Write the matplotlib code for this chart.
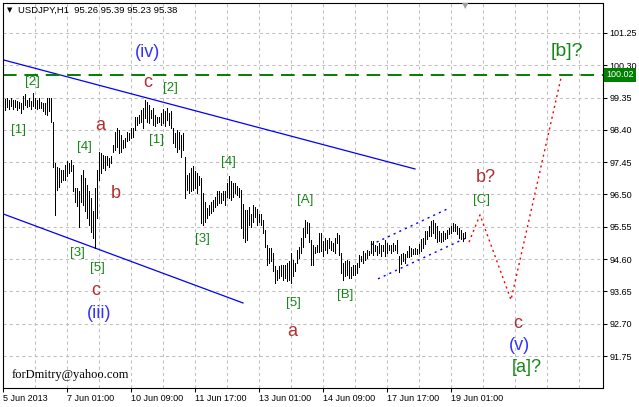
import matplotlib.pyplot as plt
import numpy as np

plt.rcParams['font.family'] = ['Liberation Sans', 'DejaVu Sans']

# hourly bars USDJPY H1 (high / low)
highs = [99.31, 99.35, 99.28, 99.33, 99.28, 99.28, 99.25, 99.23, 99.18, 99.41,
         99.45, 99.28, 99.33, 99.25, 99.48, 99.33, 99.28, 99.33, 99.23, 99.18,
         99.18, 99.33, 99.35, 99.33, 98.64, 97.42, 97.32, 97.27, 97.22, 97.22,
         97.37, 97.47, 97.42, 97.52, 97.37, 96.69, 96.69, 96.59,
         97.08, 97.22, 96.98, 96.78, 96.59, 96.39, 96.00, 96.69, 97.22, 97.76,
         97.71, 97.66, 97.62, 97.62, 97.57, 97.62, 97.96, 98.35, 98.45, 98.40,
         98.25, 98.10, 98.15, 98.35, 98.30, 98.45, 98.45, 98.79, 98.79, 98.84,
         98.99, 99.04, 99.28, 99.23, 99.13, 98.99, 99.04, 98.84, 98.79, 98.79,
         98.90, 99.00, 98.95, 99.05, 98.90, 98.95, 98.45, 98.30, 98.40, 98.35,
         98.25, 98.30, 97.60, 97.08, 97.13, 97.28, 97.33, 97.18, 97.13, 97.03,
         96.98, 96.54, 96.29, 96.09, 96.19, 96.29, 96.34, 96.44, 96.59, 96.59,
         96.54, 96.59, 96.59, 96.84, 97.03, 96.89, 96.84, 96.84, 96.74, 96.69,
         96.62, 96.23, 96.03, 96.03, 96.13, 95.94, 96.18, 96.13, 96.08, 95.94,
         95.94, 95.74, 95.45, 95.02, 94.92, 94.92, 94.77, 94.39, 94.29, 94.39,
         94.43, 94.43, 94.43, 94.48, 94.53, 94.77, 94.58, 94.48, 94.87, 94.97,
         95.21, 95.50, 95.74, 95.69, 95.65, 95.16, 95.02, 94.97, 95.02, 95.36,
         95.37, 95.12, 95.22, 95.17, 95.22, 95.12, 95.07, 95.22, 95.37, 95.32,
         94.78, 94.48, 94.53, 94.58, 94.53, 94.38, 94.43, 94.43, 94.48, 94.73,
         94.68, 94.83, 94.78, 94.88, 94.83, 95.12, 95.12, 95.02, 94.98, 95.07,
         95.02, 95.02, 95.17, 95.07, 95.02, 95.02, 95.07, 95.02, 95.17, 94.68,
         94.74, 94.79, 94.74, 94.84, 94.99, 94.94, 94.89, 94.94, 94.89, 95.04,
         95.18, 95.23, 95.43, 95.43, 95.57, 95.71, 95.76, 95.67, 95.57, 95.43,
         95.38, 95.43, 95.38, 95.47, 95.52, 95.57, 95.67, 95.62, 95.57, 95.52,
         95.47, 95.38, 95.39]
lows = [98.99, 99.06, 99.02, 99.11, 99.02, 99.06, 98.99, 99.04, 98.89, 99.02,
        99.13, 99.06, 99.09, 99.02, 99.09, 99.04, 99.02, 99.04, 99.04, 98.96,
        98.86, 98.84, 98.96, 98.64, 97.32, 95.90, 96.64, 96.73, 96.88, 96.93,
        96.93, 97.03, 97.13, 97.18, 96.59, 96.29, 96.15, 95.55,
        96.29, 96.19, 96.00, 95.80, 95.61, 95.41, 95.22, 94.92, 95.80, 96.93,
        97.13, 97.27, 97.22, 97.37, 97.32, 97.42, 97.76, 97.81, 97.91, 97.71,
        97.76, 97.86, 97.91, 98.06, 98.10, 98.15, 98.20, 98.40, 98.55, 98.60,
        98.64, 98.45, 98.74, 98.64, 98.60, 98.74, 98.55, 98.50, 98.60, 98.64,
        98.55, 98.60, 98.50, 98.70, 98.55, 98.45, 98.00, 97.90, 97.75, 97.85,
        97.60, 97.80, 96.40, 96.64, 96.54, 96.59, 96.64, 96.69, 96.54, 96.79,
        95.65, 95.60, 95.70, 95.80, 95.90, 95.95, 96.00, 96.14, 96.19, 96.24,
        96.24, 96.34, 96.19, 96.44, 96.39, 96.34, 96.44, 96.54, 96.49, 96.44,
        95.50, 95.21, 95.11, 95.16, 95.60, 95.55, 95.69, 95.84, 95.60, 95.69,
        95.60, 95.36, 94.97, 94.43, 94.48, 94.53, 94.24, 93.90, 94.00, 94.05,
        94.10, 94.00, 94.05, 93.95, 94.00, 93.90, 94.10, 94.24, 94.48, 94.63,
        94.77, 94.97, 95.26, 95.36, 95.11, 94.43, 94.43, 94.77, 94.82, 94.82,
        94.83, 94.68, 94.88, 94.78, 94.93, 94.88, 94.83, 94.78, 95.07, 94.73,
        94.18, 93.99, 94.09, 94.13, 94.04, 94.04, 94.13, 94.13, 94.18, 94.38,
        94.53, 94.48, 94.58, 94.63, 94.73, 94.78, 94.73, 94.83, 94.73, 94.78,
        94.68, 94.83, 94.68, 94.78, 94.88, 94.78, 94.83, 94.88, 94.78, 94.23,
        94.45, 94.55, 94.50, 94.65, 94.65, 94.70, 94.74, 94.74, 94.74, 94.79,
        94.84, 94.94, 95.04, 95.18, 95.28, 95.28, 95.38, 95.23, 95.09, 95.13,
        95.09, 95.13, 95.18, 95.23, 95.33, 95.38, 95.43, 95.43, 95.33, 95.23,
        95.18, 95.13, 95.23]

date_bars = [-1, 31, 63, 95, 127, 159, 191, 223]
date_labels = ['5 Jun 2013', '7 Jun 01:00', '10 Jun 09:00', '11 Jun 17:00',
               '13 Jun 01:00', '14 Jun 09:00', '17 Jun 17:00', '19 Jun 01:00']
price_ticks = [101.25, 100.30, 99.35, 98.40, 97.45, 96.50, 95.55, 94.60,
               93.65, 92.70, 91.75]
level = 100.02

# trend lines (bar index, price)
upper_x, upper_y = [-1, 205], [100.46, 97.25]
lower_x, lower_y = [-1, 119], [95.93, 93.31]
chan_top_x, chan_top_y = [183, 221], [95.02, 96.07]
chan_bot_x, chan_bot_y = [186.5, 230.5], [94.02, 95.22]
fc_x = [232, 237.5, 253, 278]
fc_y = [95.10, 95.90, 93.40, 99.93]

GREEN = '#178517'
RED = '#b03030'
BLUE = '#3333ff'
labels = [
    ('[2]', 13.5, 99.81, GREEN, 9.5), ('[1]', 6.5, 98.40, GREEN, 9.5),
    ('a', 47.5, 98.54, RED, 13), ('c', 71.5, 99.78, RED, 13),
    ('(iv)', 71, 100.66, BLUE, 13), ('[2]', 82.5, 99.63, GREEN, 9.5),
    ('[1]', 76, 98.10, GREEN, 9.5), ('[4]', 39.5, 97.90, GREEN, 9.5),
    ('b', 55.5, 96.54, RED, 13), ('[3]', 36, 94.78, GREEN, 9.5),
    ('[5]', 46, 94.34, GREEN, 9.5), ('c', 45.5, 93.69, RED, 13),
    ('(iii)', 47, 93.01, BLUE, 13), ('[4]', 111.5, 97.46, GREEN, 9.5),
    ('[3]', 98.5, 95.19, GREEN, 9.5), ('[A]', 150, 96.34, GREEN, 9.5),
    ('[5]', 144, 93.31, GREEN, 9.5), ('a', 143.5, 92.46, RED, 13),
    ('[B]', 170, 93.54, GREEN, 9.5), ('b?', 240.5, 97.01, RED, 13),
    ('[C]', 238, 96.34, GREEN, 9.5), ('c', 256.5, 92.72, RED, 13),
    ('(v)', 257, 92.07, BLUE, 13), ('[a]?', 261, 91.40, GREEN, 13),
    ('[b]?', 281, 100.69, GREEN, 14),
]

fig = plt.figure(figsize=(6.39, 4.07), dpi=100)
ax = fig.add_axes([3 / 639, 19 / 407, 600 / 639, 385 / 407])
ax.set_xlim(-1, 299)
ax.set_ylim(90.81, 102.13)

# grid
for g in np.arange(15, 299, 16):
    ax.axvline(g, color='#c0c0c0', lw=0.75, ls=(0, (3, 3)), zorder=0)
for p in price_ticks:
    ax.axhline(p, color='#c0c0c0', lw=0.75, ls=(0, (3, 3)), zorder=0)

# bars
idx = np.arange(len(highs))
ax.vlines(idx, lows, highs, color='black', lw=0.5, antialiased=False, zorder=3)

ax.plot(upper_x, upper_y, color='blue', lw=0.9)
ax.plot(lower_x, lower_y, color='blue', lw=0.9)
ax.plot(chan_top_x, chan_top_y, color='blue', lw=1.0, ls=(0, (1.5, 3)))
ax.plot(chan_bot_x, chan_bot_y, color='blue', lw=1.0, ls=(0, (1.5, 3)))
ax.plot(fc_x, fc_y, color='red', lw=1.0, ls=(0, (1.5, 2.5)))
ax.axhline(level, color='#008000', lw=1.4, ls=(0, (7, 4)), zorder=2)

for txt, xi, yp, col, fs in labels:
    ax.text(xi, yp, txt, color=col, fontsize=fs, ha='center', va='center', zorder=5)

# axes
ax.yaxis.tick_right()
ax.set_yticks(price_ticks)
ax.set_yticklabels(['%.2f' % p for p in price_ticks])
ax.set_xticks(date_bars)
ax.set_xticklabels(date_labels, ha='left')
ax.tick_params(axis='both', length=3, width=0.75, pad=1.5, labelsize=6.5, direction='out')
for s in ax.spines.values():
    s.set_linewidth(0.8)

ax.text(1.005, level, '100.02', transform=ax.get_yaxis_transform(), color='white',
        fontsize=6.5, va='center', ha='left',
        bbox=dict(boxstyle='square,pad=0.25', fc='#008000', ec='none'), clip_on=False)

fig.text(18 / 639, 1 - 10 / 407, 'USDJPY,H1  95.26 95.39 95.23 95.38',
         fontsize=6.8, va='center', ha='left')
fig.text(10 / 639, 1 - 10 / 407, '\u25bc', fontsize=5, va='center', ha='center',
         family='DejaVu Sans')
fig.text(465 / 639, 1 - 6 / 407, '\u25bc', fontsize=6, va='center', ha='center',
         color='#a0a0a0', family='DejaVu Sans')
fig.text(12 / 639, 1 - 375 / 407, 'forDmitry@yahoo.com', fontsize=9,
         family='Liberation Serif', va='center', ha='left')

fig.savefig('out.png', dpi=100)
